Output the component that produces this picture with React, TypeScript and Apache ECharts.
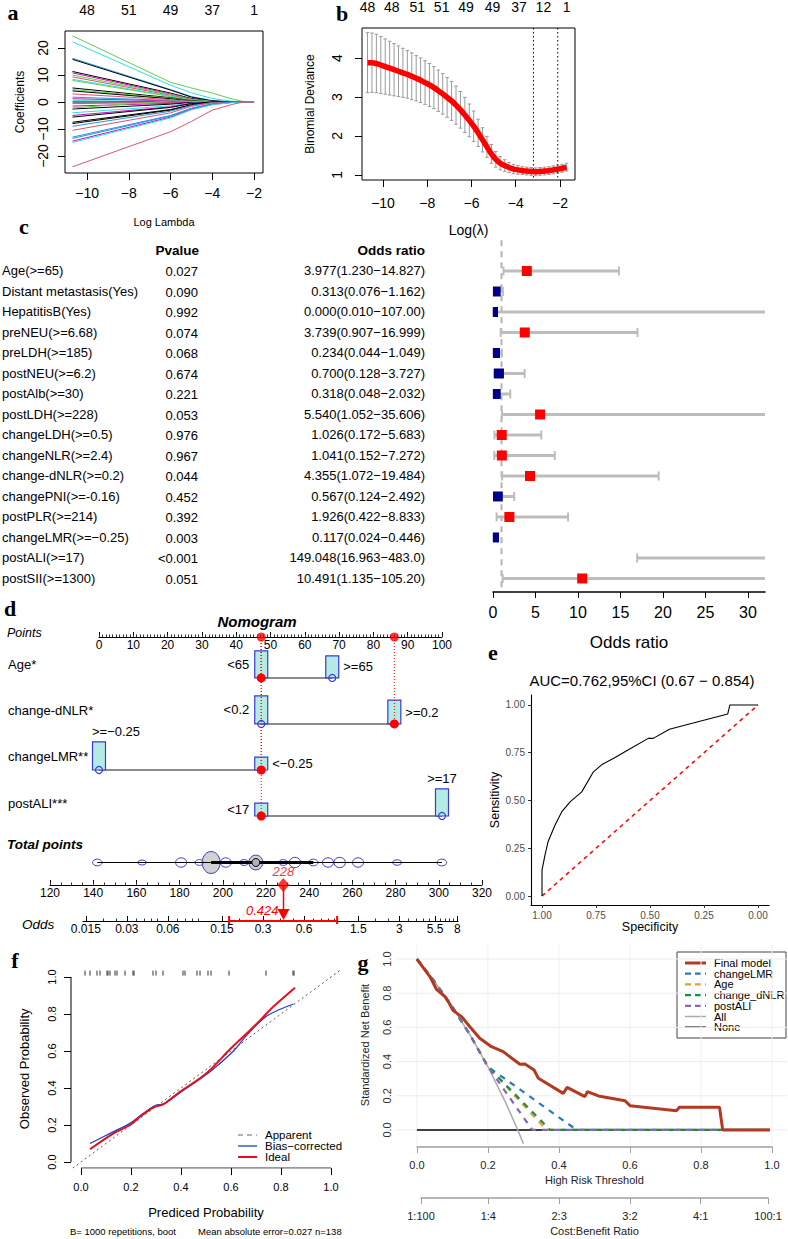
import React, { useEffect, useRef } from 'react';
import * as echarts from 'echarts';

const SANS = "'Liberation Sans', Arial, Helvetica, sans-serif";
const SERIF = "'Liberation Serif', 'Times New Roman', serif";

// ---------------- Panel a: LASSO coefficient paths ----------------
const aKnots = [-10.7, -6, -5, -4, -3, -2.5, -2];
const K = '#000000', R = '#DF536B', G = '#61D04F', B = '#2297E6', C = '#28E2E5', M = '#CD0BBC';
const aColors = [G, C, B, K, K, M, G, R, C, G, K, G, K, R, B, M, C, K, R, M, K, G, C, M, K, K, K, B, R, B, B, M, C, R];
const aValues = [
  [24.5, 7.3, 5.2, 3.3, 1.0, 0.2, 0],
  [22.3, 6.2, 3.4, 1.3, 0.2, 0, 0],
  [16.2, 4.6, 2.0, 0.5, 0, 0, 0],
  [15.8, 4.4, 1.8, 0.4, 0, 0, 0],
  [11.3, 3.3, 1.3, 0.3, 0, 0, 0],
  [10.8, 3.0, 1.1, 0.2, 0, 0, 0],
  [10.0, 2.8, 1.0, 0.2, 0, 0, 0],
  [9.3, 2.5, 0.8, 0.1, 0, 0, 0],
  [8.4, 2.2, 0.7, 0.1, 0, 0, 0],
  [8.0, 2.0, 0.6, 0.1, 0, 0, 0],
  [5.2, 1.6, 0.5, 0, 0, 0, 0],
  [4.6, 1.4, 0.4, 0, 0, 0, 0],
  [4.1, 1.2, 0.3, 0, 0, 0, 0],
  [3.0, 0.9, 0.2, 0, 0, 0, 0],
  [1.8, 0.6, 0.1, 0, 0, 0, 0],
  [1.2, 0.4, 0.1, 0, 0, 0, 0],
  [0.5, 0.2, 0, 0, 0, 0, 0],
  [0.0, 0.0, 0, 0, 0, 0, 0],
  [-0.6, -0.2, 0, 0, 0, 0, 0],
  [-1.5, -0.5, -0.1, 0, 0, 0, 0],
  [-2.6, -0.8, -0.2, 0, 0, 0, 0],
  [-2.2, 0.4, 0.2, 0, 0, 0, 0],
  [-4.0, -1.4, -0.4, 0, 0, 0, 0],
  [-5.0, -1.8, -0.5, 0, 0, 0, 0],
  [-5.6, -2.0, -0.6, 0, 0, 0, 0],
  [-7.5, -2.8, -1.0, -0.1, 0, 0, 0],
  [-8.0, -3.0, -1.1, -0.1, 0, 0, 0],
  [-9.0, -3.4, -1.3, -0.2, 0, 0, 0],
  [-10.5, -4.0, -1.6, -0.3, 0, 0, 0],
  [-13.0, -5.0, -2.3, -0.7, -0.1, 0, 0],
  [-13.5, -5.2, -2.4, -0.7, -0.1, 0, 0],
  [-14.5, -5.6, -2.7, -0.9, -0.1, 0, 0],
  [-15.0, -5.9, -2.9, -1.0, -0.2, 0, 0],
  [-24.0, -11.0, -7.2, -3.0, -0.8, 0, 0],
];
const aTicks = [-10, -8, -6, -4, -2];
const aDfLabels = ['48', '51', '49', '37', '1'];
const aYTicks = [-20, -10, 0, 10, 20];

// ---------------- Panel b: cross-validation deviance ----------------
const bLambda = [-10.7, -10.5, -10.3, -10.1, -9.9, -9.7, -9.5, -9.3, -9.1, -8.9, -8.7, -8.5, -8.3, -8.1, -7.9, -7.7, -7.5, -7.3, -7.1, -6.9, -6.7, -6.5, -6.3, -6.1, -5.9, -5.7, -5.5, -5.3, -5.1, -4.9, -4.7, -4.5, -4.3, -4.1, -3.9, -3.7, -3.5, -3.3, -3.1, -2.9, -2.7, -2.5, -2.3, -2.1, -1.9, -1.7];
const bMean = [3.88, 3.88, 3.86, 3.82, 3.78, 3.74, 3.70, 3.66, 3.62, 3.58, 3.53, 3.48, 3.43, 3.37, 3.31, 3.24, 3.16, 3.08, 2.99, 2.90, 2.79, 2.67, 2.54, 2.40, 2.25, 2.08, 1.90, 1.72, 1.54, 1.40, 1.30, 1.24, 1.19, 1.15, 1.13, 1.11, 1.10, 1.09, 1.08, 1.09, 1.10, 1.11, 1.13, 1.15, 1.17, 1.20];
const bSE = [0.77, 0.76, 0.75, 0.73, 0.71, 0.69, 0.67, 0.65, 0.63, 0.61, 0.60, 0.58, 0.57, 0.56, 0.55, 0.54, 0.53, 0.52, 0.51, 0.50, 0.49, 0.47, 0.45, 0.42, 0.39, 0.35, 0.31, 0.27, 0.24, 0.20, 0.17, 0.15, 0.13, 0.12, 0.11, 0.10, 0.10, 0.10, 0.10, 0.10, 0.10, 0.10, 0.10, 0.10, 0.10, 0.10];
const bTicks = [-10, -8, -6, -4, -2];
const bYTicks = [1, 2, 3, 4];
const bDfPos = [-10.7, -9.6, -8.45, -7.35, -6.25, -5.05, -3.85, -2.75, -1.7];
const bDfLabels = ['48', '48', '51', '51', '49', '49', '37', '12', '1'];
const bVLines = [-3.2, -2.1];

// ---------------- Panel c: multivariable table + forest plot ----------------
const forestVars = ['Age(>=65)', 'Distant metastasis(Yes)', 'HepatitisB(Yes)', 'preNEU(>=6.68)', 'preLDH(>=185)', 'postNEU(>=6.2)', 'postAlb(>=30)', 'postLDH(>=228)', 'changeLDH(>=0.5)', 'changeNLR(>=2.4)', 'change-dNLR(>=0.2)', 'changePNI(>=-0.16)', 'postPLR(>=214)', 'changeLMR(>=\u22120.25)', 'postALI(>=17)', 'postSII(>=1300)'];
const forestP = ['0.027', '0.090', '0.992', '0.074', '0.068', '0.674', '0.221', '0.053', '0.976', '0.967', '0.044', '0.452', '0.392', '0.003', '<0.001', '0.051'];
const forestORText = ['3.977(1.230\u221214.827)', '0.313(0.076\u22121.162)', '0.000(0.010\u2212107.00)', '3.739(0.907\u221216.999)', '0.234(0.044\u22121.049)', '0.700(0.128\u22123.727)', '0.318(0.048\u22122.032)', '5.540(1.052\u221235.606)', '1.026(0.172\u22125.683)', '1.041(0.152\u22127.272)', '4.355(1.072\u221219.484)', '0.567(0.124\u22122.492)', '1.926(0.422\u22128.833)', '0.117(0.024\u22120.446)', '149.048(16.963\u2212483.0)', '10.491(1.135\u2212105.20)'];
const forestOR = [3.977, 0.313, 0.0, 3.739, 0.234, 0.700, 0.318, 5.540, 1.026, 1.041, 4.355, 0.567, 1.926, 0.117, 149.048, 10.491];
const forestLo = [1.230, 0.076, 0.010, 0.907, 0.044, 0.128, 0.048, 1.052, 0.172, 0.152, 1.072, 0.124, 0.422, 0.024, 16.963, 1.135];
const forestHi = [14.827, 1.162, 107.00, 16.999, 1.049, 3.727, 2.032, 35.606, 5.683, 7.272, 19.484, 2.492, 8.833, 0.446, 483.0, 105.20];
const forestTicks = [0, 5, 10, 15, 20, 25, 30];

// ---------------- Panel d: nomogram ----------------
const nomoVars = ['Age*', 'change-dNLR*', 'changeLMR**', 'postALI***'];
const nomoLevels = [['<65', '>=65'], ['<0.2', '>=0.2'], ['>=\u22120.25', '<\u22120.25'], ['<17', '>=17']];
const nomoPoints = [[47.3, 68], [47.3, 86.1], [0, 47.3], [47.3, 100]];
const nomoFreq = [[0.59, 0.48], [0.61, 0.52], [0.61, 0.28], [0.28, 0.59]];
const nomoLabelPos = [['left', 'right'], ['left', 'right'], ['topleft', 'right'], ['left', 'top']];
const nomoSelected = [0, 1, 1, 0];
const pointsTicks = [0, 10, 20, 30, 40, 50, 60, 70, 80, 90, 100];
const totalTicks = [120, 140, 160, 180, 200, 220, 240, 260, 280, 300, 320];
const totalValues = [141.9, 162.6, 180.7, 189.2, 194.6, 201.4, 209.9, 215.3, 228.0, 233.4, 241.9, 248.7, 254.1, 262.6, 280.7, 301.4];
const totalFreq = [0.15, 0.05, 0.3, 0.1, 1.0, 0.3, 0.1, 0.6, 0.1, 0.35, 0.15, 0.3, 0.35, 0.3, 0.08, 0.15];
const totalIQR = [194.6, 241.9];
const totalMedian = 215.3;
const oddsTickVals = [0.015, 0.03, 0.06, 0.15, 0.3, 0.6, 1.5, 3, 5.5, 8];
const oddsTickLabels = ['0.015', '0.03', '0.06', '0.15', '0.3', '0.6', '1.5', '3', '5.5', '8'];
const oddsMinor = [0.02, 0.025, 0.035, 0.04, 0.045, 0.05, 0.07, 0.08, 0.09, 0.1, 0.2, 0.4, 0.5, 0.7, 0.8, 0.9, 1, 2, 2.5, 3.5, 4, 4.5, 5, 6, 6.5, 7, 7.5];
const predictedOdds = 0.424;
const oddsCI = [0.169, 1.05];

// ---------------- Panel e: ROC ----------------
const rocSpec = [1, 1, 0.986, 0.972, 0.94, 0.909, 0.87, 0.816, 0.762, 0.72, 0.67, 0.6, 0.508, 0.485, 0.41, 0.3, 0.14, 0.13, 0];
const rocSens = [0, 0.135, 0.215, 0.284, 0.37, 0.44, 0.493, 0.545, 0.65, 0.69, 0.72, 0.765, 0.825, 0.825, 0.873, 0.905, 0.953, 1, 1];
const rocTicks = [0, 0.25, 0.5, 0.75, 1];

// ---------------- Panel f: calibration ----------------
const calRedX = [0.036, 0.13, 0.196, 0.236, 0.29, 0.33, 0.396, 0.476, 0.523, 0.596, 0.69, 0.77, 0.856];
const calRedY = [0.069, 0.155, 0.2, 0.245, 0.295, 0.313, 0.38, 0.452, 0.506, 0.609, 0.73, 0.84, 0.942];
const calBlueX = [0.036, 0.13, 0.196, 0.25, 0.30, 0.33, 0.396, 0.516, 0.61, 0.663, 0.743, 0.85];
const calBlueY = [0.10, 0.164, 0.209, 0.263, 0.308, 0.313, 0.375, 0.488, 0.60, 0.686, 0.789, 0.854];
const calRug = [0.016, 0.036, 0.064, 0.076, 0.104, 0.108, 0.116, 0.136, 0.144, 0.176, 0.208, 0.212, 0.288, 0.30, 0.328, 0.408, 0.416, 0.464, 0.476, 0.508, 0.52, 0.592, 0.74, 0.848, 0.852];
const calTicks = [0, 0.2, 0.4, 0.6, 0.8, 1];

// ---------------- Panel g: decision curve ----------------
const dcaFinal = [[0, 1], [0.037, 0.896], [0.055, 0.823], [0.079, 0.78], [0.091, 0.741], [0.102, 0.698], [0.126, 0.663], [0.149, 0.604], [0.177, 0.536], [0.21, 0.487], [0.243, 0.458], [0.29, 0.384], [0.304, 0.386], [0.33, 0.351], [0.342, 0.302], [0.412, 0.214], [0.423, 0.249], [0.473, 0.195], [0.48, 0.224], [0.511, 0.199], [0.586, 0.171], [0.6, 0.142], [0.731, 0.113], [0.739, 0.133], [0.852, 0.133], [0.861, 0], [0.994, 0]];
const dcaAll = [[0, 1], [0.05, 0.867], [0.1, 0.72], [0.15, 0.555], [0.2, 0.37], [0.25, 0.16], [0.284, 0], [0.3, -0.08]];
const dcaLMR = [[0, 1], [0.05, 0.867], [0.1, 0.72], [0.15, 0.555], [0.2, 0.37], [0.45, 0], [0.994, 0]];
const dcaAge = [[0, 1], [0.05, 0.867], [0.1, 0.72], [0.15, 0.555], [0.2, 0.37], [0.365, 0], [0.994, 0]];
const dcaDNLR = [[0, 1], [0.05, 0.867], [0.1, 0.72], [0.15, 0.555], [0.2, 0.37], [0.375, 0], [0.994, 0]];
const dcaALI = [[0, 1], [0.05, 0.867], [0.1, 0.72], [0.15, 0.555], [0.2, 0.37], [0.325, 0], [0.994, 0]];
const dcaNone = [[0, 0], [0.994, 0]];
const dcaNames = ['Final model', 'changeLMR', 'Age', 'change_dNLR', 'postALI', 'All', 'None'];
const dcaColors = ['#b33a22', '#2a7bbd', '#e6a032', '#1d8a50', '#7e6bb5', '#aaaaaa', '#000000'];
const dcaTicks = [0, 0.2, 0.4, 0.6, 0.8, 1];
const costTickVals = [1 / 101, 0.2, 0.4, 0.6, 0.8, 100 / 101];
const costTickLabels = ['1:100', '1:4', '2:3', '3:2', '4:1', '100:1'];

// ---------------- helpers ----------------
const minus = (v: number) => String(Math.round(v * 1000) / 1000).replace('-', '\u2212');
const findLabel = (vals: number[], labels: string[]) => (v: number) => {
  const i = vals.findIndex((t) => Math.abs(t - v) < 1e-6);
  return i >= 0 ? labels[i] : '';
};

function txt(text: string, x: number, y: number, o: any = {}) {
  return {
    type: 'text',
    silent: true,
    style: {
      text, x, y,
      fill: o.fill || '#000',
      fontSize: o.size || 13,
      fontFamily: o.family || SANS,
      fontWeight: o.weight || 'normal',
      fontStyle: o.style || 'normal',
      align: o.align || 'left', textAlign: o.align || 'left',
      verticalAlign: o.va || 'middle', textVerticalAlign: o.va || 'middle',
    },
  };
}

function ax(gridIndex: number, min: number, max: number, extra: any = {}) {
  const base: any = {
    type: 'value', gridIndex, min, max,
    splitLine: { show: false },
    axisLine: { show: false, onZero: false },
    axisTick: { show: false },
    axisLabel: { show: false },
  };
  Object.keys(extra).forEach((k) => {
    const v = extra[k];
    if (v && typeof v === 'object' && !Array.isArray(v) && base[k] && typeof base[k] === 'object') base[k] = { ...base[k], ...v };
    else base[k] = v;
  });
  return base;
}

function buildOption() {
  const grids = [
    { left: 65, top: 31, width: 198, height: 142, show: true, borderColor: '#000', borderWidth: 1, backgroundColor: 'transparent' }, // 0 a
    { left: 362, top: 28, width: 213, height: 152, show: true, borderColor: '#000', borderWidth: 1, backgroundColor: 'transparent' }, // 1 b
    { left: 493, top: 240.25, width: 272, height: 351.75 }, // 2 forest
    { left: 99, top: 610, width: 343, height: 27 }, // 3 points axis
    { left: 99, top: 637, width: 343, height: 179 }, // 4 nomogram rows
    { left: 50, top: 840, width: 432, height: 45 }, // 5 total points
    { left: 83, top: 885, width: 375, height: 36 }, // 6 odds
    { left: 531, top: 695, width: 238, height: 210 }, // 7 roc
    { left: 71, top: 969.6, width: 270, height: 198.5 }, // 8 calibration
    { left: 397, top: 945, width: 390, height: 200 }, // 9 dca
    { left: 417, top: 1140, width: 355, height: 7 }, // 10 dca threshold axis
    { left: 421, top: 1190, width: 347, height: 8 }, // 11 dca cost axis
  ];

  const blackTick = (vals: number[], len: number, inside = false, color = '#000') => ({ show: true, customValues: vals, length: len, inside, lineStyle: { color, width: 1 } });
  const lab = (vals: number[], o: any = {}) => ({ show: true, customValues: vals, color: '#000', fontFamily: SANS, ...o });

  const oddsLog = oddsTickVals.map((v) => Math.log10(v));
  const pointsMinor = Array.from({ length: 101 }, (_, i) => i);
  const totalMinor = Array.from({ length: 41 }, (_, i) => 120 + i * 5);

  const xAxis = [
    ax(0, -11.06, -1.57, { position: 'bottom', axisTick: blackTick(aTicks, 7), axisLabel: lab(aTicks, { formatter: minus, fontSize: 14, margin: 13 }), name: 'Log Lambda', nameLocation: 'middle', nameGap: 43, nameTextStyle: { fontSize: 11, color: '#000', fontFamily: SANS } }), // 0
    ax(0, -11.06, -1.57, { position: 'top', axisLabel: lab(aTicks, { formatter: findLabel(aTicks, aDfLabels), fontSize: 14, margin: 14 }) }), // 1
    ax(1, -10.95, -1.32, { position: 'bottom', axisTick: blackTick(bTicks, 7), axisLabel: lab(bTicks, { formatter: minus, fontSize: 14, margin: 16 }), name: 'Log(\u03bb)', nameLocation: 'middle', nameGap: 43, nameTextStyle: { fontSize: 14, color: '#000', fontFamily: SANS } }), // 2
    ax(1, -10.95, -1.32, { position: 'top', axisLabel: lab(bDfPos, { formatter: findLabel(bDfPos, bDfLabels), fontSize: 14, margin: 14 }) }), // 3
    ax(2, 0, 32, { position: 'bottom', axisLine: { show: true, lineStyle: { color: '#000', width: 1.5 } }, axisTick: blackTick(forestTicks, 6), axisLabel: lab(forestTicks, { fontSize: 16, margin: 12 }), name: 'Odds ratio', nameLocation: 'middle', nameGap: 42, nameTextStyle: { fontSize: 17, color: '#000', fontFamily: SANS } }), // 4
    ax(3, 0, 100, { position: 'bottom', axisLine: { show: true, lineStyle: { color: '#000', width: 1 } }, axisTick: blackTick(pointsTicks, 5, true), axisLabel: lab(pointsTicks, { fontSize: 12, margin: 2 }) }), // 5
    ax(3, 0, 100, { position: 'bottom', axisTick: blackTick(pointsMinor, 2.5, true, '#333') }), // 6
    ax(4, 0, 100, { position: 'bottom' }), // 7
    ax(5, 120, 320, { position: 'bottom', axisLine: { show: true, lineStyle: { color: '#000', width: 1 } }, axisTick: blackTick(totalTicks, 5, true), axisLabel: lab(totalTicks, { fontSize: 12, margin: 2 }) }), // 8
    ax(5, 120, 320, { position: 'bottom', axisTick: blackTick(totalMinor, 2.5, true, '#333') }), // 9
    ax(6, Math.log10(0.0143), Math.log10(8.1), { position: 'bottom', axisLine: { show: true, lineStyle: { color: '#000', width: 1 } }, axisTick: blackTick(oddsLog, 5, true), axisLabel: lab(oddsLog, { fontSize: 12, margin: 2, formatter: findLabel(oddsLog, oddsTickLabels) }) }), // 10
    ax(6, Math.log10(0.0143), Math.log10(8.1), { position: 'bottom', axisTick: blackTick(oddsMinor.map((v) => Math.log10(v)), 2.5, true, '#333') }), // 11
    ax(7, -0.051, 1.051, { position: 'bottom', inverse: true, axisLine: { show: true, lineStyle: { color: '#000', width: 1.1 } }, axisTick: blackTick(rocTicks, 3, false, '#333'), axisLabel: lab(rocTicks, { fontSize: 10, color: '#4d4d4d', margin: 5, formatter: (v: number) => v.toFixed(2) }), name: 'Specificity', nameLocation: 'middle', nameGap: 15, nameTextStyle: { fontSize: 12.5, color: '#000', fontFamily: SANS } }), // 12
    ax(8, -0.04, 1.04, { position: 'bottom', axisTick: blackTick(calTicks, 7), axisLabel: lab(calTicks, { fontSize: 11, margin: 13, formatter: (v: number) => v.toFixed(1) }), name: 'Prediced Probability', nameLocation: 'middle', nameGap: 38, nameTextStyle: { fontSize: 13, color: '#000', fontFamily: SANS } }), // 13
    ax(9, -0.056, 1.042, { position: 'bottom' }), // 14
    ax(10, 0, 1, { position: 'bottom', axisLine: { show: true, lineStyle: { color: '#a0a0a0', width: 1.5 } }, axisTick: blackTick(dcaTicks, 6, false, '#a0a0a0'), axisLabel: lab(dcaTicks, { fontSize: 11, color: '#222', margin: 12, formatter: (v: number) => v.toFixed(1) }), name: 'High Risk Threshold', nameLocation: 'middle', nameGap: 27, nameTextStyle: { fontSize: 11, color: '#222', fontFamily: SANS } }), // 15
    ax(11, 1 / 101, 100 / 101, { position: 'bottom', axisLine: { show: true, lineStyle: { color: '#a0a0a0', width: 1.5 } }, axisTick: blackTick(costTickVals, 6, false, '#a0a0a0'), axisLabel: lab(costTickVals, { fontSize: 11, color: '#222', margin: 12, formatter: findLabel(costTickVals, costTickLabels) }), name: 'Cost:Benefit Ratio', nameLocation: 'middle', nameGap: 27, nameTextStyle: { fontSize: 11, color: '#222', fontFamily: SANS } }), // 16
  ];

  const yAxis = [
    ax(0, -26.3, 26.3, { position: 'left', axisTick: blackTick(aYTicks, 7), axisLabel: lab(aYTicks, { rotate: 90, formatter: minus, fontSize: 14, margin: 15 }), name: 'Coefficients', nameLocation: 'middle', nameGap: 39, nameTextStyle: { fontSize: 12, color: '#000', fontFamily: SANS } }), // 0
    ax(1, 0.87, 4.77, { position: 'left', axisTick: blackTick(bYTicks, 7), axisLabel: lab(bYTicks, { rotate: 90, fontSize: 14, margin: 18 }), name: 'Binomial Deviance', nameLocation: 'middle', nameGap: 46, nameTextStyle: { fontSize: 12, color: '#000', fontFamily: SANS } }), // 1
    ax(2, -1.5, 15.66, { inverse: true }), // 2
    ax(3, 0, 1, {}), // 3
    ax(4, 0.11, 4, { inverse: true }), // 4
    ax(5, 0, 1, {}), // 5
    ax(6, 0, 1, {}), // 6
    ax(7, -0.047, 1.052, { position: 'left', axisLine: { show: true, lineStyle: { color: '#000', width: 1.1 } }, axisTick: blackTick(rocTicks, 3, false, '#333'), axisLabel: lab(rocTicks, { fontSize: 10, color: '#4d4d4d', margin: 6, formatter: (v: number) => v.toFixed(2) }), name: 'Sensitivity', nameLocation: 'middle', nameGap: 26, nameTextStyle: { fontSize: 12.5, color: '#000', fontFamily: SANS } }), // 7
    ax(8, -0.033, 1.04, { position: 'left', axisTick: blackTick(calTicks, 7), axisLabel: lab(calTicks, { rotate: 90, fontSize: 11, margin: 14, formatter: (v: number) => v.toFixed(1) }), name: 'Observed Probability', nameLocation: 'middle', nameGap: 40, nameTextStyle: { fontSize: 13, color: '#000', fontFamily: SANS } }), // 8
    ax(9, -0.088, 1.082, { position: 'left', axisLabel: lab(dcaTicks, { rotate: 90, fontSize: 11, color: '#333', margin: 5, formatter: (v: number) => v.toFixed(1) }), name: 'Standardized Net Benefit', nameLocation: 'middle', nameGap: 27, nameTextStyle: { fontSize: 11, color: '#222', fontFamily: SANS } }), // 9
    ax(10, 0, 1, {}), // 10
    ax(11, 0, 1, {}), // 11
  ];

  const series: any[] = [];

  // ----- a -----
  aValues.forEach((vals, k) => {
    series.push({
      type: 'line', xAxisIndex: 0, yAxisIndex: 0, symbol: 'none', silent: true,
      data: aKnots.map((x, i) => [x, vals[i]]),
      lineStyle: { color: aColors[k], width: 1 },
    });
  });

  // ----- b -----
  series.push({
    type: 'custom', xAxisIndex: 2, yAxisIndex: 1, silent: true,
    data: bLambda.map((x, i) => [x, bMean[i]]),
    renderItem: (params: any, api: any) => {
      const i = params.dataIndex;
      const top = api.coord([bLambda[i], bMean[i] + bSE[i]]);
      const bot = api.coord([bLambda[i], bMean[i] - bSE[i]]);
      const st = { stroke: '#9a9a9a', lineWidth: 1 };
      return {
        type: 'group', children: [
          { type: 'line', shape: { x1: top[0], y1: top[1], x2: bot[0], y2: bot[1] }, style: st },
          { type: 'line', shape: { x1: top[0] - 1.8, y1: top[1], x2: top[0] + 1.8, y2: top[1] }, style: st },
          { type: 'line', shape: { x1: bot[0] - 1.8, y1: bot[1], x2: bot[0] + 1.8, y2: bot[1] }, style: st },
        ],
      };
    },
  });
  series.push({
    type: 'custom', xAxisIndex: 2, yAxisIndex: 1, silent: true,
    data: bVLines.map((x) => [x, 2]),
    renderItem: (params: any, api: any) => {
      const cs = params.coordSys;
      const x = api.coord([bVLines[params.dataIndex], 2])[0];
      return { type: 'line', shape: { x1: x, y1: cs.y, x2: x, y2: cs.y + cs.height }, style: { stroke: '#000', lineWidth: 1, lineDash: [1.5, 2.5] } };
    },
  });
  series.push({
    type: 'line', xAxisIndex: 2, yAxisIndex: 1, symbol: 'none', silent: true, smooth: 0.3,
    data: bLambda.map((x, i) => [x, bMean[i]]),
    lineStyle: { color: '#ff0000', width: 5.5 },
  });

  // ----- c: forest -----
  series.push({
    type: 'custom', xAxisIndex: 4, yAxisIndex: 2, silent: true,
    data: [[1, 0]],
    renderItem: (params: any, api: any) => {
      const cs = params.coordSys;
      const x = api.coord([1, 0])[0];
      return { type: 'line', shape: { x1: x, y1: cs.y, x2: x, y2: cs.y + cs.height }, style: { stroke: '#b4b4b4', lineWidth: 2, lineDash: [6, 5] } };
    },
  });
  series.push({
    type: 'custom', xAxisIndex: 4, yAxisIndex: 2, silent: true,
    data: forestOR.map((v, i) => [v, i]),
    renderItem: (params: any, api: any) => {
      const i = params.dataIndex;
      const cs = params.coordSys;
      const L = cs.x, Rr = cs.x + cs.width;
      const y = api.coord([0, i])[1];
      const xl = api.coord([forestLo[i], i])[0];
      const xh = api.coord([forestHi[i], i])[0];
      const xo = api.coord([forestOR[i], i])[0];
      const children: any[] = [];
      const gray = '#bdbdbd';
      const a = Math.max(xl, L), b = Math.min(xh, Rr);
      if (b > a) children.push({ type: 'line', shape: { x1: a, y1: y, x2: b, y2: y }, style: { stroke: gray, lineWidth: 3 } });
      [xl, xh].forEach((xc) => {
        if (xc >= L && xc <= Rr) children.push({ type: 'line', shape: { x1: xc, y1: y - 4.5, x2: xc, y2: y + 4.5 }, style: { stroke: gray, lineWidth: 2 } });
      });
      const s = 5;
      const r1 = Math.max(xo - s, L), r2 = Math.min(xo + s, Rr);
      if (r2 > r1) children.push({ type: 'rect', shape: { x: r1, y: y - s, width: r2 - r1, height: 2 * s }, style: { fill: forestOR[i] >= 1 ? '#ff0000' : '#00008b' } });
      return { type: 'group', children };
    },
  });
  // table text (uses forest row scale)
  series.push({
    type: 'custom', xAxisIndex: 4, yAxisIndex: 2, silent: true,
    data: forestVars.map((_, i) => [0, i]),
    renderItem: (params: any, api: any) => {
      const i = params.dataIndex;
      const y = api.coord([0, i])[1];
      const step = api.coord([0, i + 1])[1] - y;
      const children: any[] = [
        txt(forestVars[i], 2, y, { size: 13 }),
        txt(forestP[i], 198, y + 1, { size: 13, align: 'right' }),
        txt(forestORText[i], 425, y, { size: 13, align: 'right' }),
      ];
      if (i === 0) {
        children.push(txt('Pvalue', 199, y - step, { size: 13.5, weight: 'bold', align: 'right' }));
        children.push(txt('Odds ratio', 425, y - step, { size: 13.5, weight: 'bold', align: 'right' }));
      }
      return { type: 'group', children };
    },
  });

  // ----- d: nomogram -----
  const selPts = Array.from(new Set(nomoPoints.map((p, r) => p[nomoSelected[r]])));
  series.push({
    type: 'scatter', xAxisIndex: 5, yAxisIndex: 3, silent: true, symbolSize: 9,
    itemStyle: { color: '#ff0000' }, data: selPts.map((p) => [p, 0]), z: 5,
  });
  series.push({
    type: 'custom', xAxisIndex: 7, yAxisIndex: 4, silent: true,
    data: nomoVars.map((_, r) => [50, r + 1]),
    renderItem: (params: any, api: any) => {
      const r = params.dataIndex;
      const cs = params.coordSys;
      const base = api.coord([0, r + 1])[1];
      const unit = api.coord([0, r + 2])[1] - base;
      const xs = nomoPoints[r].map((p) => api.coord([p, r + 1])[0]);
      const children: any[] = [];
      children.push(txt(nomoVars[r], 8, base - 13, { size: 13 }));
      children.push({ type: 'line', shape: { x1: Math.min(...xs), y1: base, x2: Math.max(...xs), y2: base }, style: { stroke: '#666', lineWidth: 1.5 } });
      xs.forEach((x, j) => {
        const h = nomoFreq[r][j] * unit;
        children.push({ type: 'rect', shape: { x: x - 6.5, y: base - h, width: 13, height: h }, style: { fill: '#b4ece3', stroke: '#3a3ad6', lineWidth: 1.2 } });
      });
      const sx = xs[nomoSelected[r]];
      children.push({ type: 'line', shape: { x1: sx, y1: cs.y, x2: sx, y2: base }, style: { stroke: '#ff0000', lineWidth: 1, lineDash: [1, 2] } });
      xs.forEach((x, j) => {
        const h = nomoFreq[r][j] * unit;
        const pos = nomoLabelPos[r][j];
        const t = nomoLevels[r][j];
        if (pos === 'left') children.push(txt(t, x - 12, base - h / 2, { align: 'right' }));
        else if (pos === 'right') children.push(txt(t, x + 11, base - h / 2, { align: 'left' }));
        else if (pos === 'topleft') children.push(txt(t, x - 7, base - h - 10, { align: 'left' }));
        else children.push(txt(t, x, base - h - 10, { align: 'center' }));
        if (j === nomoSelected[r]) children.push({ type: 'circle', shape: { cx: x, cy: base, r: 4.5 }, style: { fill: '#ff0000' } });
        else children.push({ type: 'circle', shape: { cx: x, cy: base, r: 3.5 }, style: { fill: 'none', stroke: '#3a3ad6', lineWidth: 1.2 } });
      });
      return { type: 'group', children };
    },
  });
  const totalScore = nomoPoints.reduce((s, p, r) => s + p[nomoSelected[r]], 0);
  series.push({
    type: 'custom', xAxisIndex: 8, yAxisIndex: 5, silent: true,
    data: [[200, 0.5]],
    renderItem: (params: any, api: any) => {
      const children: any[] = [];
      const cy = api.coord([200, 0.5])[1];
      totalValues.forEach((v, k) => {
        const cx = api.coord([v, 0.5])[0];
        const f = totalFreq[k];
        const hh = 2 + 9 * f, hw = 4 + 5 * f;
        const pts: number[][] = [];
        for (let t = 0; t < 24; t++) {
          const a = (t / 24) * Math.PI * 2;
          pts.push([cx + hw * Math.cos(a), cy + hh * Math.sin(a)]);
        }
        children.push({ type: 'polygon', shape: { points: pts }, style: { fill: f > 0.5 ? 'rgba(190,190,190,0.7)' : 'rgba(255,255,255,0.2)', stroke: '#3a3ad6', lineWidth: 1 } });
      });
      const x0 = api.coord([totalValues[0], 0.5])[0];
      const x1 = api.coord([totalValues[totalValues.length - 1], 0.5])[0];
      children.push({ type: 'line', shape: { x1: x0, y1: cy, x2: x1, y2: cy }, style: { stroke: '#000', lineWidth: 1 } });
      const q1 = api.coord([totalIQR[0], 0.5])[0], q3 = api.coord([totalIQR[1], 0.5])[0];
      children.push({ type: 'line', shape: { x1: q1, y1: cy, x2: q3, y2: cy }, style: { stroke: '#000', lineWidth: 3 } });
      const md = api.coord([totalMedian, 0.5])[0];
      children.push({ type: 'circle', shape: { cx: md, cy, r: 4 }, style: { fill: '#b0b0b0', stroke: '#000', lineWidth: 1 } });
      return { type: 'group', children };
    },
  });
  series.push({
    type: 'scatter', xAxisIndex: 8, yAxisIndex: 5, silent: true, symbol: 'diamond', symbolSize: [12, 14], z: 6,
    itemStyle: { color: '#ff0000' },
    data: [[totalScore, 0]],
    label: { show: true, position: 'top', distance: 0, formatter: () => String(Math.round(totalScore)), color: '#ff0000', fontStyle: 'italic', fontSize: 13, fontFamily: SANS },
  });
  series.push({
    type: 'custom', xAxisIndex: 10, yAxisIndex: 6, silent: true,
    data: [[Math.log10(predictedOdds), 0]],
    renderItem: (params: any, api: any) => {
      const red = '#ff0000';
      const [x, yb] = api.coord([Math.log10(predictedOdds), 0]);
      const yt = api.coord([Math.log10(predictedOdds), 1])[1];
      const lo = api.coord([Math.log10(oddsCI[0]), 0])[0];
      const hi = api.coord([Math.log10(oddsCI[1]), 0])[0];
      return {
        type: 'group', children: [
          { type: 'line', shape: { x1: lo, y1: yb, x2: hi, y2: yb }, style: { stroke: red, lineWidth: 2 } },
          { type: 'line', shape: { x1: lo, y1: yb - 5, x2: lo, y2: yb + 3 }, style: { stroke: red, lineWidth: 2 } },
          { type: 'line', shape: { x1: hi, y1: yb - 5, x2: hi, y2: yb + 3 }, style: { stroke: red, lineWidth: 2 } },
          { type: 'line', shape: { x1: x, y1: yt, x2: x, y2: yb - 10 }, style: { stroke: red, lineWidth: 1.5 } },
          { type: 'polygon', shape: { points: [[x - 6, yb - 12], [x + 6, yb - 12], [x, yb - 1]] }, style: { fill: red } },
          txt(String(predictedOdds), x - 5, yb - 11, { fill: red, style: 'italic', size: 13, align: 'right' }),
        ],
      };
    },
  });

  // ----- e: ROC -----
  series.push({
    type: 'line', xAxisIndex: 12, yAxisIndex: 7, symbol: 'none', silent: true,
    data: [[1, 0], [0, 1]], lineStyle: { color: '#ff0000', width: 1.5, type: [4, 4] },
  });
  series.push({
    type: 'line', xAxisIndex: 12, yAxisIndex: 7, symbol: 'none', silent: true,
    data: rocSpec.map((s, i) => [s, rocSens[i]]), lineStyle: { color: '#000', width: 1.1 },
  });

  // ----- f: calibration -----
  series.push({
    type: 'line', xAxisIndex: 13, yAxisIndex: 8, symbol: 'none', silent: true,
    data: [[0, -0.033], [1, -0.033]], lineStyle: { color: '#000', width: 1 },
  });
  series.push({
    type: 'line', xAxisIndex: 13, yAxisIndex: 8, symbol: 'none', silent: true,
    data: [[-0.04, 0], [-0.04, 1]], lineStyle: { color: '#000', width: 1 },
  });
  series.push({
    type: 'line', xAxisIndex: 13, yAxisIndex: 8, symbol: 'none', silent: true,
    data: [[-0.033, -0.033], [1.04, 1.04]], lineStyle: { color: '#555', width: 1, type: [2, 3] },
  });
  series.push({
    type: 'custom', xAxisIndex: 13, yAxisIndex: 8, silent: true,
    data: calRug.map((v) => [v, 1]),
    renderItem: (params: any, api: any) => {
      const cs = params.coordSys;
      const x = api.coord([calRug[params.dataIndex], 1])[0];
      return { type: 'line', shape: { x1: x, y1: cs.y + 1, x2: x, y2: cs.y + 6 }, style: { stroke: '#333', lineWidth: 1 } };
    },
  });
  series.push({
    type: 'line', xAxisIndex: 13, yAxisIndex: 8, symbol: 'none', silent: true, smooth: 0.3,
    data: calBlueX.map((x, i) => [x, calBlueY[i]]), lineStyle: { color: '#1f3fd1', width: 1.3 },
  });
  series.push({
    type: 'line', xAxisIndex: 13, yAxisIndex: 8, symbol: 'none', silent: true, smooth: 0.3,
    data: calRedX.map((x, i) => [x, calRedY[i]]), lineStyle: { color: '#e0101e', width: 2 },
  });

  // ----- g: DCA -----
  series.push({
    type: 'custom', xAxisIndex: 14, yAxisIndex: 9, silent: true,
    data: [[0.5, 0.5]],
    renderItem: (params: any, api: any) => {
      const cs = params.coordSys;
      const children: any[] = [];
      dcaTicks.forEach((v) => {
        const y = api.coord([0, v])[1];
        children.push({ type: 'line', shape: { x1: cs.x, y1: y, x2: cs.x + cs.width, y2: y }, style: { stroke: '#ececec', lineWidth: 1 } });
        const x = api.coord([v, 0])[0];
        children.push({ type: 'line', shape: { x1: x, y1: cs.y, x2: x, y2: cs.y + cs.height }, style: { stroke: '#f0f0f0', lineWidth: 1 } });
      });
      return { type: 'group', children };
    },
  });
  const dcaData = [dcaFinal, dcaLMR, dcaAge, dcaDNLR, dcaALI, dcaAll, dcaNone];
  const order = [6, 5, 1, 2, 3, 4, 0];
  order.forEach((k) => {
    const dashed = k >= 1 && k <= 4;
    series.push({
      type: 'line', xAxisIndex: 14, yAxisIndex: 9, symbol: 'none', silent: true, name: dcaNames[k],
      data: dcaData[k],
      lineStyle: { color: dcaColors[k], width: k === 0 ? 3 : dashed ? 2.2 : 1.5, type: dashed ? [6, 6] : 'solid' },
    });
  });

  // ----- graphic annotations -----
  const letter = (t: string, x: number, y: number) => txt(t, x, y, { size: 22, weight: 'bold', family: SERIF, align: 'center' });
  const elements: any[] = [
    letter('a', 13, 12), letter('b', 342, 13), letter('c', 24, 226), letter('d', 10, 608),
    letter('e', 493, 652), letter('f', 15, 960), letter('g', 363, 962),
    txt('Nomogram', 257, 621, { size: 15, weight: 'bold', style: 'italic', align: 'center' }),
    txt('Points', 7, 633, { size: 12.5, style: 'italic' }),
    txt('Total points', 7, 844, { size: 13.5, weight: 'bold', style: 'italic' }),
    txt('Odds', 22, 924, { size: 13.5, style: 'italic' }),
    txt('AUC=0.762,95%CI (0.67 \u2212 0.854)', 642, 680, { size: 15, align: 'center' }),
    txt('B= 1000 repetitions, boot', 70, 1231, { size: 9.5 }),
    txt('Mean absolute error=0.027 n=138', 198, 1231, { size: 9.5 }),
  ];
  // calibration legend
  const calLeg = [
    { name: 'Apparent', color: '#999', width: 1.3, dash: [5, 4] },
    { name: 'Bias\u2212corrected', color: '#1f3fd1', width: 1.3, dash: null },
    { name: 'Ideal', color: '#e0101e', width: 2, dash: null },
  ];
  calLeg.forEach((l, i) => {
    const y = 1135 + i * 11;
    elements.push({ type: 'line', silent: true, shape: { x1: 238, y1: y, x2: 257, y2: y }, style: { stroke: l.color, lineWidth: l.width, lineDash: l.dash || undefined } });
    elements.push(txt(l.name, 265, y, { size: 11.5 }));
  });
  // DCA legend
  elements.push({ type: 'rect', silent: true, shape: { x: 677, y: 952, width: 109, height: 86 }, style: { fill: '#fff', stroke: '#444', lineWidth: 1 } });
  dcaNames.forEach((n, k) => {
    const y = 963 + k * 10.7;
    const dashed = k >= 1 && k <= 4;
    elements.push({ type: 'line', silent: true, shape: { x1: 685, y1: y, x2: 706, y2: y }, style: { stroke: dcaColors[k], lineWidth: k === 0 ? 3 : dashed ? 2.2 : 1.5, lineDash: dashed ? [6, 4] : undefined } });
    elements.push(txt(n, 714, y, { size: 11 }));
  });

  return {
    animation: false,
    backgroundColor: '#ffffff',
    textStyle: { fontFamily: SANS },
    grid: grids,
    xAxis,
    yAxis,
    series,
    graphic: { elements },
  };
}

export default function App() {
  const ref = useRef<HTMLDivElement>(null);
  useEffect(() => {
    document.body.style.margin = '0';
    const chart = echarts.init(ref.current as HTMLDivElement, null, { renderer: 'svg' });
    chart.setOption(buildOption() as any);
    return () => chart.dispose();
  }, []);
  return <div ref={ref} style={{ width: 788, height: 1239 }} />;
}
